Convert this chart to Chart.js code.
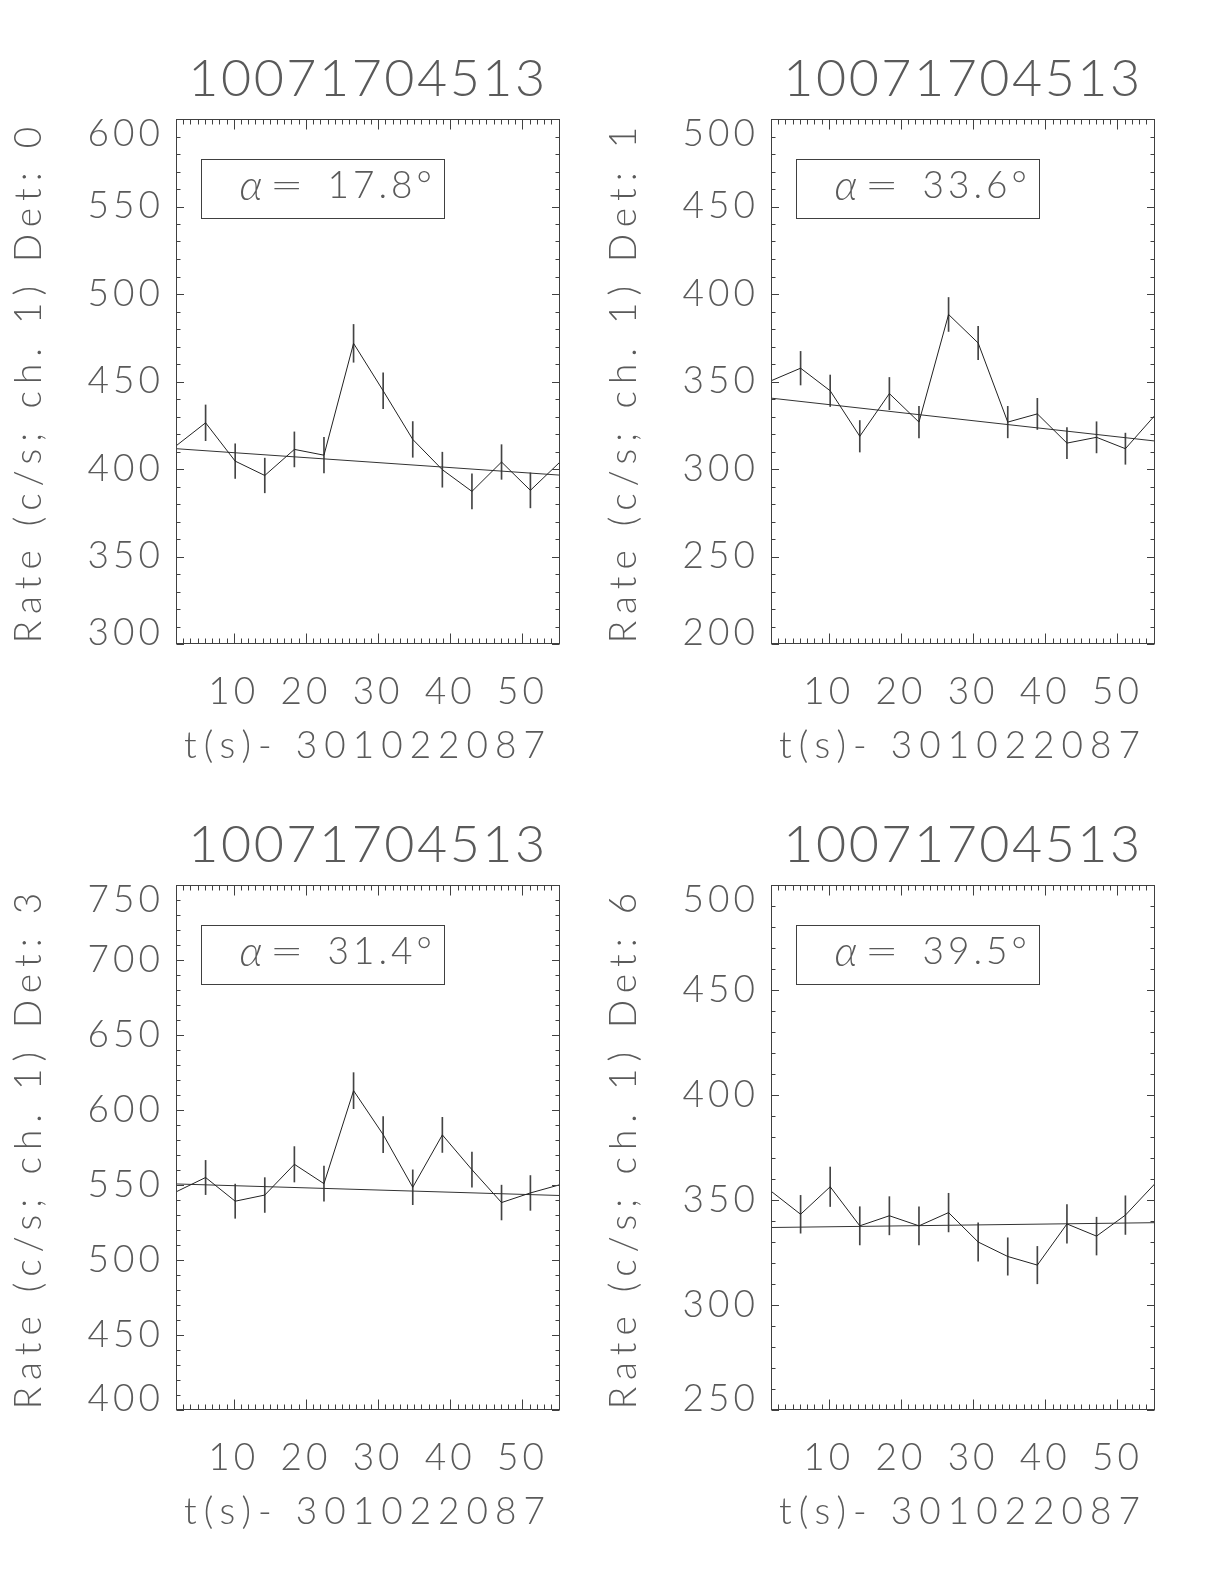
<!DOCTYPE html>
<html><head><meta charset="utf-8">
<script src="https://cdn.jsdelivr.net/npm/chart.js@4.4.1/dist/chart.umd.min.js"></script>
<style>
html,body{margin:0;padding:0;background:#fff;}
#wrap{position:relative;width:1224px;height:1584px;overflow:hidden;}
canvas{position:absolute;}
</style></head><body><div id="wrap">
<canvas id="c0" width="612" height="792" style="left:0px;top:0px"></canvas>
<canvas id="c1" width="612" height="792" style="left:595px;top:0px"></canvas>
<canvas id="c2" width="612" height="792" style="left:0px;top:766px"></canvas>
<canvas id="c3" width="612" height="792" style="left:595px;top:766px"></canvas>
</div>
<script>
// ---------------- data ----------------
const obsId = '10071704513';
const xAxisTitle = 't(s)- 301022087';
const times = [2.0, 6.1, 10.2, 14.3, 18.4, 22.5, 26.6, 30.7, 34.8, 38.9, 43.0, 47.1, 51.1, 55.2];
const xTickValues = [10, 20, 30, 40, 50];
const detectors = ['0', '1', '3', '6'];
const alphas = ['17.8', '33.6', '31.4', '39.5'];

const rateDet0 = [413.2, 426.4, 404.5, 396.3, 411.2, 407.9, 471.8, 444.7, 416.9, 399.6, 387.2, 404.0, 387.8, 404.0];
const errDet0  = [10.0, 10.2, 9.9, 9.9, 10.0, 10.2, 10.8, 10.2, 10.2, 10.0, 10.0, 9.9, 10.0, 10.0];
const fitDet0  = [411.6, 396.5];
const yTicksDet0 = [300, 350, 400, 450, 500, 550, 600];

const rateDet1 = [350.4, 357.6, 344.7, 318.7, 343.1, 326.8, 388.3, 372.0, 326.8, 331.5, 314.8, 318.1, 311.6, 330.7];
const errDet1  = [9.2, 9.6, 9.0, 9.0, 9.2, 9.0, 9.7, 9.5, 9.0, 8.9, 8.9, 8.9, 8.9, 9.0];
const fitDet1  = [340.5, 316.0];
const yTicksDet1 = [200, 250, 300, 350, 400, 450, 500];

const rateDet3 = [545.4, 555.0, 539.2, 543.3, 563.8, 550.9, 612.9, 583.6, 548.5, 583.4, 560.2, 538.3, 544.7, 550.2];
const errDet3  = [11.5, 11.4, 11.4, 11.6, 11.8, 11.7, 12.0, 12.0, 11.6, 11.7, 11.7, 11.6, 11.6, 11.6];
const fitDet3  = [550.7, 543.0];
const yTicksDet3 = [400, 450, 500, 550, 600, 650, 700, 750];

const rateDet6 = [354.2, 343.2, 356.3, 337.7, 342.5, 337.7, 344.0, 330.0, 323.1, 319.0, 338.6, 332.8, 342.8, 357.8];
const errDet6  = [9.1, 9.0, 9.4, 9.1, 9.1, 9.1, 9.2, 9.1, 8.9, 8.9, 9.2, 9.0, 9.2, 9.2];
const fitDet6  = [336.9, 339.2];
const yTicksDet6 = [250, 300, 350, 400, 450, 500];

// ---------------- drawing ----------------
const FONT = 'Lato';
const WEIGHT = 300;
const INK = '#5a5a5a';

// letter spacing to mimic the wide IDL vector font, and inward shift of extreme y labels
const idlText = {
  id: 'idlText',
  beforeDraw(chart) {
    const ctx = chart.ctx;
    const wrap = (obj, name, sp) => {
      if (!obj || obj['_w_' + name]) return;
      const orig = obj[name];
      obj[name] = function (...args) {
        const prev = ctx.letterSpacing;
        ctx.letterSpacing = sp;
        const r = orig.apply(this, args);
        ctx.letterSpacing = prev;
        return r;
      };
      obj['_w_' + name] = true;
    };
    wrap(chart.titleBlock, 'draw', '2.5px');
    for (const s of Object.values(chart.scales)) {
      wrap(s, 'drawLabels', '4px');
      wrap(s, 'drawTitle', '7px');
    }
    const y = chart.scales.y;
    if (y && !y._w_items) {
      const origItems = y.getLabelItems;
      y.getLabelItems = function (...args) {
        const items = origItems.apply(this, args);
        if (!this._shifted && items.length) {
          items[0].options.translation[1] -= 11;
          items[items.length - 1].options.translation[1] += 15;
          this._shifted = true;
        }
        return items;
      };
      y._w_items = true;
    }
  }
};

const idlFrame = {
  id: 'idlFrame',
  afterDatasetsDraw(chart, args, opts) {
    const {ctx, chartArea: a} = chart;
    const x = chart.scales.x, y = chart.scales.y;
    ctx.save();
    ctx.strokeStyle = '#404040';
    ctx.lineWidth = 1;
    const L = Math.round(a.left) + 0.5, R = Math.round(a.right) - 0.5;
    const T = Math.round(a.top) + 0.5, B = Math.round(a.bottom) - 0.5;
    ctx.strokeRect(L, T, R - L, B - T);
    ctx.beginPath();
    for (let v = Math.ceil(x.min); v <= x.max; v += 1) {
      const px = Math.round(x.getPixelForValue(v)) + 0.5;
      const len = (v % 10 === 0) ? 10 : 5;
      ctx.moveTo(px, B); ctx.lineTo(px, B - len);
      ctx.moveTo(px, T); ctx.lineTo(px, T + len);
    }
    for (let v = y.min; v <= y.max; v += 10) {
      const py = Math.round(y.getPixelForValue(v)) + 0.5;
      const len = (v % 50 === 0) ? 7.5 : 4;
      ctx.moveTo(L, py); ctx.lineTo(L + len, py);
      ctx.moveTo(R, py); ctx.lineTo(R - len, py);
    }
    ctx.stroke();
    // alpha annotation box
    const bx = Math.round(a.left) + 25.5, by = Math.round(a.top) + 40.5;
    const bw = 243, bh = 59;
    ctx.strokeRect(bx, by, bw, bh);
    ctx.fillStyle = INK;
    ctx.textBaseline = 'middle';
    ctx.textAlign = 'left';
    const ty = by + bh / 2 - 3;
    ctx.font = 'italic ' + WEIGHT + ' 42px ' + FONT;
    ctx.fillText('\u03b1', bx + 38, ty);
    ctx.font = WEIGHT + ' 37px ' + FONT;
    ctx.save();
    ctx.translate(bx + 68, ty);
    ctx.scale(1.6, 1);
    ctx.fillText('=', 0, 0);
    ctx.restore();
    ctx.letterSpacing = '4px';
    ctx.fillText(opts.alpha + '\u00b0', bx + 126, ty);
    ctx.restore();
  }
};

function makePanel(id, det, alpha, rates, errs, fit, yTicks) {
  const pts = times.map((t, i) => ({x: t, y: rates[i]}));
  const bars = times.map((t, i) => ({x: t, y: [rates[i] - errs[i], rates[i] + errs[i]]}));
  const fitPts = [{x: times[0], y: fit[0]}, {x: times[times.length - 1], y: fit[1]}];
  const tickFont = {family: FONT, size: 37, weight: WEIGHT, lineHeight: 1};
  new Chart(document.getElementById(id), {
    data: {
      datasets: [
        {type: 'line', data: pts, borderColor: '#222', borderWidth: 1, pointRadius: 0, tension: 0, order: 1},
        {type: 'line', data: fitPts, borderColor: '#333', borderWidth: 1, pointRadius: 0, tension: 0, order: 2},
        {type: 'bar', data: bars, backgroundColor: '#444', borderWidth: 0, barThickness: 1, order: 3}
      ]
    },
    options: {
      responsive: false,
      animation: false,
      devicePixelRatio: 1,
      layout: {padding: {left: 0, right: 52, top: 0, bottom: 0}},
      plugins: {
        legend: {display: false},
        tooltip: {enabled: false},
        title: {
          display: true, text: obsId, fullSize: false, color: INK,
          font: {family: FONT, size: 52, weight: WEIGHT, lineHeight: 1},
          padding: {top: 53, bottom: 14}
        },
        idlFrame: {alpha: alpha}
      },
      scales: {
        x: {
          type: 'linear', position: 'bottom', offset: false,
          min: times[0], max: times[times.length - 1],
          grid: {display: false, drawTicks: false, offset: false},
          border: {display: false},
          afterBuildTicks: s => { s.ticks = xTickValues.map(v => ({value: v})); },
          afterFit: s => { s.height = 148; },
          ticks: {color: INK, font: tickFont, padding: 30, maxRotation: 0, autoSkip: false},
          title: {display: true, text: xAxisTitle, color: INK, font: tickFont, padding: {top: 0, bottom: 27}}
        },
        y: {
          type: 'linear', position: 'left',
          min: yTicks[0], max: yTicks[yTicks.length - 1],
          grid: {display: false, drawTicks: false},
          border: {display: false},
          afterBuildTicks: s => { s.ticks = yTicks.map(v => ({value: v})); },
          afterFit: s => { s.width = 176; },
          ticks: {color: INK, font: tickFont, padding: 12, autoSkip: false},
          title: {display: true, text: 'Rate (c/s; ch. 1) Det: ' + det, color: INK, font: tickFont, padding: {top: 11, bottom: 0}}
        }
      }
    },
    plugins: [idlText, idlFrame]
  });
}

makePanel('c0', detectors[0], alphas[0], rateDet0, errDet0, fitDet0, yTicksDet0);
makePanel('c1', detectors[1], alphas[1], rateDet1, errDet1, fitDet1, yTicksDet1);
makePanel('c2', detectors[2], alphas[2], rateDet3, errDet3, fitDet3, yTicksDet3);
makePanel('c3', detectors[3], alphas[3], rateDet6, errDet6, fitDet6, yTicksDet6);
</script>
</body></html>
